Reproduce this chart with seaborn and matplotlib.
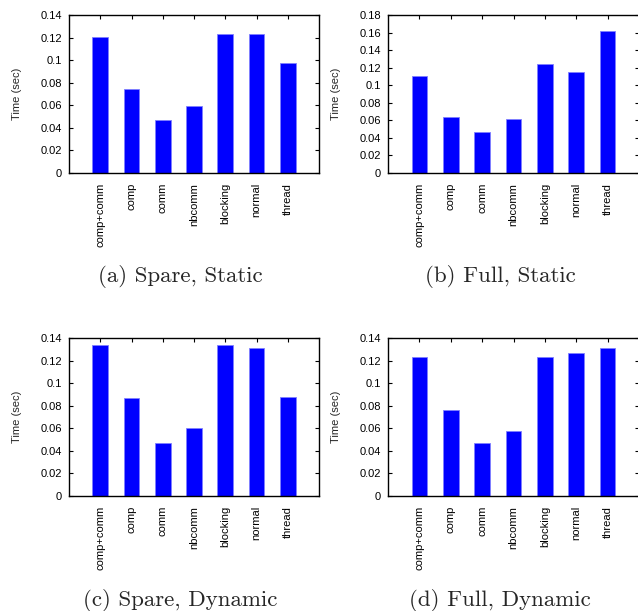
import numpy as np
import pandas as pd
import matplotlib
matplotlib.use("Agg")
import matplotlib.pyplot as plt
import seaborn as sns

# -----------------------------
# data
# -----------------------------
variants = ["comp+comm", "comp", "comm", "nbcomm", "blocking", "normal", "thread"]

spare_static = [0.1208, 0.0743, 0.0469, 0.0595, 0.1235, 0.1229, 0.0973]
full_static = [0.1109, 0.0642, 0.0467, 0.0615, 0.1246, 0.1151, 0.1618]
spare_dynamic = [0.1341, 0.0864, 0.0474, 0.0604, 0.1338, 0.1311, 0.0873]
full_dynamic = [0.1231, 0.0764, 0.0471, 0.0577, 0.1234, 0.1267, 0.1311]

captions = ["(a) Spare, Static", "(b) Full, Static",
            "(c) Spare, Dynamic", "(d) Full, Dynamic"]
ymax = [0.14, 0.18, 0.14, 0.14]
ystep = 0.02

sns.set_style("white")
plt.rcParams['font.family'] = ['Liberation Sans', 'DejaVu Sans']

W, H = 638, 611
fig = plt.figure(figsize=(W / 100, H / 100), dpi=100)

# axes boxes in pixels: left, top, width, height
boxes = [(69, 15, 250, 158), (388, 15, 251, 158),
         (69, 338, 250, 158), (388, 338, 251, 158)]
series = [spare_static, full_static, spare_dynamic, full_dynamic]
cap_pos = [(180, 277), (500, 277), (180, 600), (500, 600)]

for i in range(4):
    l, t, w, h = boxes[i]
    ax = fig.add_axes([l / W, 1 - (t + h) / H, w / W, h / H])
    df = pd.DataFrame({"variant": variants, "time": series[i]})
    sns.barplot(data=df, x="variant", y="time", order=variants, ax=ax,
                color="#0000ff", saturation=1, width=0.5,
                edgecolor="#8080ff", linewidth=0.6)
    ax.set_xlim(-1, 7)
    ax.set_ylim(0, ymax[i])
    ticks = np.arange(0, ymax[i] + 1e-9, ystep)
    ax.set_yticks(ticks)
    ax.set_yticklabels(["0" if v == 0 else ("%g" % round(v, 2)) for v in ticks])
    ax.set_xticks(range(len(variants)))
    ax.set_xticklabels(variants, rotation=90)
    ax.set_xlabel("")
    ax.set_ylabel("Time (sec)", fontsize=8, labelpad=13)
    ax.tick_params(axis="both", direction="in", length=3, width=0.8,
                   labelsize=8, colors="black",
                   top=True, right=True, bottom=True, left=True)
    ax.tick_params(axis="x", pad=7)
    ax.tick_params(axis="y", pad=5)
    for s in ax.spines.values():
        s.set_visible(True)
        s.set_color("black")
        s.set_linewidth(1.0)
    fig.text(cap_pos[i][0] / W, 1 - cap_pos[i][1] / H, captions[i],
             ha="center", va="center", fontsize=16.5,
             family=["cmr10", "DejaVu Serif"])

fig.savefig("out.png", dpi=100)
